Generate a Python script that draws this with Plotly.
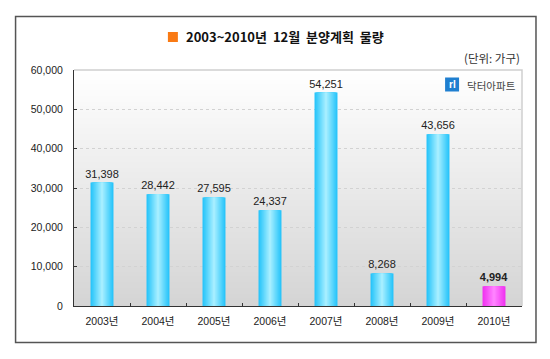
import plotly.graph_objects as go

years = ["2003년", "2004년", "2005년", "2006년", "2007년", "2008년", "2009년", "2010년"]
values = [31398, 28442, 27595, 24337, 54251, 8268, 43656, 4994]
y_ticks = [0, 10000, 20000, 30000, 40000, 50000, 60000]
title = "2003~2010년\u00a0 12월\u00a0 분양계획\u00a0 물량"
unit = "(단위: 가구)"
brand = "닥터아파트"

W, H = 550, 359
L, R, T, B = 74, 522.5, 70, 306
FONT = "Liberation Sans, Noto Sans CJK KR, sans-serif"
CJK = "Noto Sans CJK KR, sans-serif"


def mix(a, b, t):
    return "rgb(%d,%d,%d)" % tuple(round(a[i] + (b[i] - a[i]) * t) for i in range(3))


fig = go.Figure()

# Cylinder shading: overlaid bars narrowing towards a pale centre
STEPS = 12
BLUE_EDGE, BLUE_MID = (38, 196, 250), (165, 238, 255)
PINK_EDGE, PINK_MID = (240, 50, 240), (255, 130, 255)
for s in range(STEPS):
    t = s / (STEPS - 1)
    width = 0.41 * (1 - t * 0.92)
    colors = [mix(BLUE_EDGE, BLUE_MID, t)] * (len(values) - 1) + [mix(PINK_EDGE, PINK_MID, t)]
    kw = {}
    if s == 0:
        labels = [f"{v:,}" for v in values]
        labels[-1] = f"<b>{labels[-1]}</b>"
        kw = dict(text=labels, textposition="outside", cliponaxis=False, constraintext="none",
                  textangle=0, textfont=dict(family=FONT, size=11, color="#222222"))
    fig.add_trace(go.Bar(x=years, y=values, width=width,
                         marker=dict(color=colors, line=dict(width=0)),
                         showlegend=False, hoverinfo="skip" if s else "x+y", **kw))

shapes = []
# Plot background gradient
BANDS = 118
for i in range(BANDS):
    f0, f1 = i / BANDS, (i + 1) / BANDS + 0.002
    shapes.append(dict(type="rect", xref="x domain", yref="y domain", x0=0, x1=1,
                       y0=1 - f1, y1=1 - f0, layer="below", line=dict(width=0),
                       fillcolor=mix((255, 255, 255), (212, 212, 212), f0)))
# Plot top/right edge
shapes.append(dict(type="path", xref="paper", yref="paper",
                   path="M 0 1 L 1 1 L 1 0", line=dict(color="#cfcfcf", width=1.5), layer="below"))
# Outer frame
shapes.append(dict(type="rect", xref="paper", yref="paper",
                   x0=(15.5 - L) / (R - L), x1=(536.5 - L) / (R - L),
                   y0=(B - 342.5) / (B - T), y1=(B - 16.5) / (B - T),
                   line=dict(color="#555555", width=1.5), layer="below"))
# Orange title key
shapes.append(dict(type="rect", xref="paper", yref="paper",
                   x0=(168 - L) / (R - L), x1=(178 - L) / (R - L),
                   y0=(B - 42) / (B - T), y1=(B - 32) / (B - T),
                   fillcolor="#f97a14", line=dict(width=0)))
# Brand logo tile
shapes.append(dict(type="rect", xref="paper", yref="paper",
                   x0=(445.5 - L) / (R - L), x1=(459.5 - L) / (R - L),
                   y0=(B - 91.5) / (B - T), y1=(B - 77.5) / (B - T),
                   fillcolor="#1f7fd0", line=dict(width=0)))


def note(text, px, py, size, color, anchor="left", family=CJK):
    return dict(text=text, xref="paper", yref="paper", showarrow=False,
                x=(px - L) / (R - L), y=(B - py) / (B - T),
                xanchor=anchor, yanchor="middle",
                font=dict(family=family, size=size, color=color))


annotations = [
    note(f"<b>{title}</b>", 184, 37, 13, "#111111"),
    note(unit, 522, 58, 11.5, "#333333", anchor="right"),
    note(brand, 465, 85, 10.5, "#444444"),
    note("<b>rl</b>", 452.5, 84.5, 10, "#ffffff", anchor="center", family="Liberation Sans, sans-serif"),
]

fig.update_layout(
    width=W, height=H, margin=dict(l=L, r=W - R, t=T, b=H - B),
    autosize=False, barmode="overlay",
    paper_bgcolor="white", plot_bgcolor="rgba(0,0,0,0)",
    shapes=shapes, annotations=annotations,
    xaxis=dict(type="category", categoryorder="array", categoryarray=years,
               tickson="boundaries", ticks="inside", ticklen=3, tickcolor="#333333",
               tickfont=dict(family=FONT, size=10.5, color="#222222"),
               ticklabelstandoff=5,
               showline=True, linecolor="#333333", linewidth=1, showgrid=False,
               range=[-0.5, 7.5]),
    yaxis=dict(range=[0, 60000], tickvals=y_ticks, tickformat=",", ticks="inside",
               ticklen=3, tickcolor="#333333", separatethousands=True,
               tickfont=dict(family=FONT, size=10.5, color="#222222"),
               showline=True, linecolor="#333333", linewidth=1, ticklabelstandoff=8,
               showgrid=True, gridcolor="#d2d2d2", griddash="3px,3px", gridwidth=1,
               zeroline=False),
)

fig.write_html("out.html", config={"displayModeBar": False},
               post_script="document.body.style.margin='0';document.documentElement.style.overflow='hidden';")
